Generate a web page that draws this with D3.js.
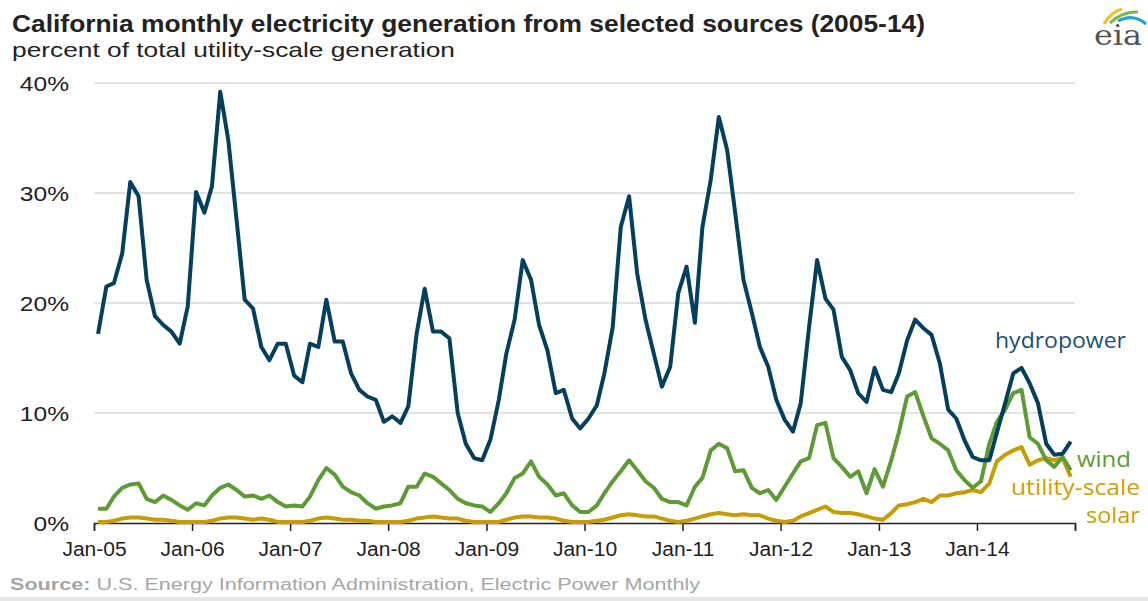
<!DOCTYPE html>
<html>
<head>
<meta charset="utf-8">
<script src="https://cdn.jsdelivr.net/npm/d3@7"></script>
<style>
  body { margin: 0; background: #fff; }
  svg { display: block; font-family: "Liberation Sans", Arial, sans-serif; }
</style>
</head>
<body>
<div id="chart"></div>
<script>
// monthly values, Jan-2005 .. Dec-2014, percent of total utility-scale generation
const hydropower = [
  17.2, 21.5, 21.8, 24.5, 31.0, 29.7, 22.1, 18.8, 18.0, 17.4, 16.3, 19.7,
  30.1, 28.2, 30.6, 39.2, 34.8, 27.5, 20.3, 19.5, 16.0, 14.8, 16.3, 16.3,
  13.4, 12.8, 16.3, 16.0, 20.3, 16.5, 16.5, 13.6, 12.1, 11.5, 11.2, 9.2,
  9.7, 9.1, 10.6, 17.2, 21.3, 17.4, 17.4, 16.8, 10.0, 7.2, 5.9, 5.7,
  7.6, 11.2, 15.4, 18.5, 23.9, 22.1, 18.0, 15.7, 11.8, 12.1, 9.5, 8.6,
  9.5, 10.7, 13.6, 17.8, 26.9, 29.7, 22.7, 18.5, 15.4, 12.4, 14.2, 20.9,
  23.3, 18.2, 26.9, 31.2, 36.9, 33.9, 28.2, 22.1, 19.1, 16.0, 14.2, 11.2,
  9.4, 8.3, 10.9, 17.8, 23.9, 20.4, 19.4, 15.1, 13.9, 11.8, 11.0, 14.1,
  12.1, 11.9, 13.6, 16.6, 18.5, 17.7, 17.1, 14.5, 10.3, 9.5, 7.5, 6.0,
  5.7, 5.7, 8.2, 10.9, 13.6, 14.1, 12.7, 10.9, 7.2, 6.2, 6.3, 7.4
];
const wind = [
  1.3, 1.3, 2.4, 3.2, 3.5, 3.6, 2.2, 1.9, 2.5, 2.1, 1.6, 1.2,
  1.8, 1.6, 2.5, 3.2, 3.5, 3.0, 2.4, 2.5, 2.2, 2.5, 1.9, 1.5,
  1.6, 1.5, 2.4, 3.9, 5.0, 4.4, 3.3, 2.8, 2.5, 1.8, 1.3, 1.5,
  1.6, 1.8, 3.3, 3.3, 4.5, 4.2, 3.6, 3.0, 2.2, 1.8, 1.6, 1.5,
  1.0, 1.8, 2.7, 4.1, 4.5, 5.6, 4.2, 3.5, 2.5, 2.7, 1.6, 1.0,
  1.0, 1.6, 2.7, 3.8, 4.7, 5.7, 4.8, 3.8, 3.2, 2.2, 1.9, 1.9,
  1.6, 3.3, 4.1, 6.6, 7.2, 6.8, 4.7, 4.8, 3.2, 2.7, 3.0, 2.1,
  3.3, 4.5, 5.6, 5.9, 8.9, 9.1, 5.9, 5.1, 4.2, 4.7, 2.7, 4.9,
  3.3, 5.7, 8.2, 11.5, 11.9, 9.7, 7.7, 7.2, 6.6, 4.8, 3.9, 3.2,
  3.8, 7.2, 9.2, 10.3, 11.8, 12.1, 7.8, 7.2, 5.7, 5.1, 6.0, 4.8
];
const solar = [
  0.1, 0.1, 0.2, 0.4, 0.5, 0.5, 0.4, 0.3, 0.3, 0.2, 0.1, 0.1,
  0.1, 0.1, 0.2, 0.4, 0.5, 0.5, 0.4, 0.3, 0.4, 0.3, 0.1, 0.1,
  0.1, 0.1, 0.2, 0.4, 0.5, 0.4, 0.3, 0.3, 0.2, 0.2, 0.1, 0.1,
  0.1, 0.1, 0.2, 0.4, 0.5, 0.6, 0.5, 0.4, 0.4, 0.2, 0.1, 0.1,
  0.1, 0.1, 0.3, 0.5, 0.6, 0.6, 0.5, 0.5, 0.4, 0.2, 0.1, 0.1,
  0.1, 0.2, 0.3, 0.5, 0.7, 0.8, 0.7, 0.6, 0.6, 0.4, 0.2, 0.1,
  0.2, 0.4, 0.6, 0.8, 0.9, 0.8, 0.7, 0.8, 0.7, 0.7, 0.4, 0.2,
  0.1, 0.2, 0.6, 0.9, 1.2, 1.5, 1.0, 0.9, 0.9, 0.8, 0.6, 0.4,
  0.3, 0.9, 1.6, 1.7, 1.9, 2.2, 1.9, 2.5, 2.5, 2.7, 2.8, 3.0,
  2.8, 3.6, 5.6, 6.2, 6.6, 6.9, 5.3, 5.7, 5.9, 5.7, 5.9, 4.2
];
const yTicks = [0, 10, 20, 30, 40];
const startYear = 2005, endYear = 2015;

const width = 1148, height = 601;
const plotLeft = 94, plotRight = 1075, plotTop = 83, plotBottom = 523;

const svg = d3.select("#chart").append("svg")
    .attr("width", width)
    .attr("height", height);

const x = d3.scaleTime()
    .domain([new Date(startYear, 0, 1), new Date(endYear, 0, 1)])
    .range([plotLeft, plotRight]);
const y = d3.scaleLinear()
    .domain([0, 40])
    .range([plotBottom, plotTop]);

// month i sits in the middle of its month slot
function monthDate(i){
    return new Date(startYear, i, 16);
}

// stretch a text a bit wider, the source chart uses a wide face
function widen(sel, k){
    sel.each(function(){
        let w = this.getComputedTextLength();
        d3.select(this)
            .attr("textLength", w * k)
            .attr("lengthAdjust", "spacingAndGlyphs");
    });
}

// gridlines
svg.append("g")
    .selectAll("line")
    .data(yTicks.filter(d => d > 0))
    .enter().append("line")
    .attr("x1", plotLeft)
    .attr("x2", plotRight)
    .attr("y1", d => y(d))
    .attr("y2", d => y(d))
    .attr("stroke", "#d9d9d9")
    .attr("stroke-width", 1.5);

// y labels
let yLabels = svg.append("g")
    .selectAll("text")
    .data(yTicks)
    .enter().append("text")
    .attr("x", 69)
    .attr("y", d => y(d) + 8)
    .attr("text-anchor", "end")
    .attr("font-size", 21)
    .attr("fill", "#222")
    .text(d => d + "%");
widen(yLabels, 1.17);

// x axis
const xAxis = d3.axisBottom(x)
    .ticks(d3.timeYear.every(1))
    .tickSize(8)
    .tickFormat(d => d.getFullYear() < endYear ? d3.timeFormat("Jan-%y")(d) : "");

const ax = svg.append("g")
    .attr("transform", "translate(0," + plotBottom + ")")
    .call(xAxis);
ax.select(".domain").attr("stroke", "#222").attr("stroke-width", 1.5);
ax.selectAll(".tick line").attr("stroke", "#222").attr("stroke-width", 1.5);
let tickText = ax.selectAll(".tick text")
    .attr("font-family", "Liberation Sans, Arial, sans-serif")
    .attr("font-size", 20)
    .attr("fill", "#222")
    .attr("dy", "0")
    .attr("y", 33);
widen(tickText.filter(function(){ return this.textContent != ""; }), 1.05);

// lines
const line = d3.line()
    .x((d, i) => x(monthDate(i)))
    .y(d => y(d));

const series = [
    {name: "solar", values: solar, color: "#c79c00"},
    {name: "wind", values: wind, color: "#5e9a35"},
    {name: "hydropower", values: hydropower, color: "#053f5e"}
];

svg.append("g")
    .selectAll("path")
    .data(series)
    .enter().append("path")
    .attr("d", d => line(d.values))
    .attr("fill", "none")
    .attr("stroke", d => d.color)
    .attr("stroke-width", 4)
    .attr("stroke-linejoin", "round");

// series labels
const labels = [
    {text: "hydropower", x: 1126, y: 348, w: 131, color: "#1d4f6e"},
    {text: "wind", x: 1131, y: 467, w: 54, color: "#5e9a35"},
    {text: "utility-scale", x: 1140, y: 495, w: 129, color: "#c9a100"},
    {text: "solar", x: 1140, y: 523, w: 54, color: "#c9a100"}
];
svg.append("g")
    .selectAll("text")
    .data(labels)
    .enter().append("text")
    .attr("x", d => d.x)
    .attr("y", d => d.y)
    .attr("text-anchor", "end")
    .attr("font-family", "Open Sans, Liberation Sans, sans-serif")
    .attr("font-size", 21)
    .attr("fill", d => d.color)
    .attr("textLength", d => d.w)
    .attr("lengthAdjust", "spacingAndGlyphs")
    .text(d => d.text);

// titles
svg.append("text")
    .attr("x", 12)
    .attr("y", 32)
    .attr("font-size", 23)
    .attr("font-weight", "bold")
    .attr("fill", "#222")
    .attr("textLength", 913)
    .attr("lengthAdjust", "spacingAndGlyphs")
    .text("California monthly electricity generation from selected sources  (2005-14)");

svg.append("text")
    .attr("x", 12)
    .attr("y", 57)
    .attr("font-size", 21)
    .attr("fill", "#222")
    .attr("textLength", 443)
    .attr("lengthAdjust", "spacingAndGlyphs")
    .text("percent  of total utility-scale generation");

// source
const src = svg.append("text")
    .attr("x", 10)
    .attr("y", 590)
    .attr("font-size", 17)
    .attr("fill", "#a6a6a6")
    .attr("textLength", 690)
    .attr("lengthAdjust", "spacingAndGlyphs");
src.append("tspan").attr("font-weight", "bold").text("Source:");
src.append("tspan").text(" U.S. Energy Information Administration, Electric Power Monthly");

svg.append("rect")
    .attr("x", 0)
    .attr("y", 597)
    .attr("width", width)
    .attr("height", 4)
    .attr("fill", "#e6e6e6");

// eia logo
const logo = svg.append("g");
logo.append("path")
    .attr("d", "M1104,24 Q1111,12 1122,9")
    .attr("fill", "none").attr("stroke", "#f2c12e").attr("stroke-width", 3);
logo.append("path")
    .attr("d", "M1110,23 Q1122,11 1138,12")
    .attr("fill", "none").attr("stroke", "#7ab648").attr("stroke-width", 3);
logo.append("path")
    .attr("d", "M1118,21 Q1133,13 1146,24")
    .attr("fill", "none").attr("stroke", "#2d9fd9").attr("stroke-width", 3);
logo.append("text")
    .attr("x", 1094)
    .attr("y", 45)
    .attr("font-family", "DejaVu Serif, Liberation Serif, serif")
    .attr("font-size", 27)
    .attr("fill", "#555")
    .attr("textLength", 48)
    .attr("lengthAdjust", "spacingAndGlyphs")
    .text("eia");
</script>
</body>
</html>
